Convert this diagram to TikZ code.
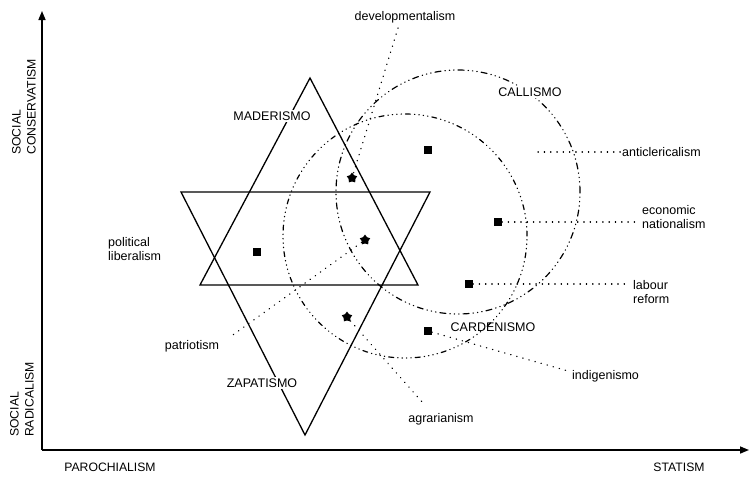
\documentclass[tikz,border=0pt]{standalone}
\usepackage{fontspec}
\setmainfont{Liberation Sans}
\usetikzlibrary{shapes.geometric,arrows.meta}
\tikzset{
  lab/.style={font=\fontsize{12.5}{14.5}\selectfont, inner sep=1pt},
  axlab/.style={font=\fontsize{12.2}{15}\selectfont, inner sep=0pt},
  biglab/.style={lab, fill=white, inner sep=2pt},
  tri/.style={draw, line width=1.3pt, line join=miter},
  axis/.style={draw, line width=1.5pt, -{Triangle[length=9pt,width=7pt]}},
  circA/.style={draw, line width=1.2pt, line cap=round, dash pattern=on 6pt off 4pt on 0.4pt off 4pt on 0.4pt off 4pt on 0.4pt off 4pt},
  circB/.style={draw, line width=1.2pt, line cap=round, dash pattern=on 5pt off 4pt on 0.4pt off 4pt on 0.4pt off 4pt on 0.4pt off 4pt on 0.4pt off 4pt},
  leader/.style={draw, line width=1.3pt, line cap=round, dash pattern=on 0.3pt off 6pt},
  sqm/.style={rectangle, fill=black, minimum size=7.5pt, inner sep=0pt},
  stm/.style={star, star points=5, star point ratio=1.6, fill=black, minimum size=11pt, inner sep=0pt}
}
\begin{document}
\begin{tikzpicture}[x=1pt,y=-1pt]
\useasboundingbox[fill=white] (0,0) rectangle (749,477);

% axes
\coordinate (O) at (42,450);
\coordinate (yTop) at (42,11);
\coordinate (xEnd) at (749,450);
\draw[axis] (O) -- (yTop);
\draw[axis] (O) -- (xEnd);

% circles
\node[circle, circA, minimum size=244pt, inner sep=0pt] (callismo) at (458,192) {};
\node[circle, circB, minimum size=244pt, inner sep=0pt] (cardenismo) at (405,236) {};

% triangles
\coordinate (uA) at (310,78);
\coordinate (uL) at (200,285);
\coordinate (uR) at (418,285);
\coordinate (dL) at (181,192);
\coordinate (dR) at (430,192);
\coordinate (dB) at (305,435);
\draw[tri] (uA) -- (uL) -- (uR) -- cycle;
\draw[tri] (dL) -- (dR) -- (dB) -- cycle;

% markers
\node[stm] (mDev) at (352,178) {};
\node[sqm] (mAnti) at (428,150) {};
\node[sqm] (mEco) at (498,222) {};
\node[sqm] (mLab) at (469,284) {};
\node[sqm] (mInd) at (428,331) {};
\node[stm] (mAgr) at (347,317) {};
\node[stm] (mPat) at (365,240) {};
\node[sqm] (mLib) at (257,252) {};

% labels
\node[lab] (lDev) at (405,17) {developmentalism};
\node[lab, anchor=west] (lAnti) at (621,152) {anticlericalism};
\node[lab, anchor=west, align=left] (lEco) at (641,217) {economic\\nationalism};
\node[lab, anchor=west, align=left] (lLab) at (632,292) {labour\\reform};
\node[lab, anchor=west] (lInd) at (571,376) {indigenismo};
\node[lab] (lAgr) at (441,419) {agrarianism};
\node[lab] (lPat) at (192,346) {patriotism};
\node[lab, anchor=west, align=left] (lLib) at (107,249) {political\\liberalism};

% leaders
\coordinate (devEnd) at (398,28);
\coordinate (antiStart) at (538,152);
\coordinate (ecoEnd) at (638,222);
\coordinate (labEnd) at (630,284);
\coordinate (indEnd) at (568,371);
\coordinate (agrEnd) at (423,403);
\coordinate (patEnd) at (230,337);
\draw[leader] (devEnd) -- (mDev);
\draw[leader] (antiStart) -- (lAnti.west);
\draw[leader] (mEco) -- (ecoEnd);
\draw[leader] (mLab) -- (labEnd);
\draw[leader] (mInd) -- (indEnd);
\draw[leader] (mAgr) -- (agrEnd);
\draw[leader] (mPat) -- (patEnd);

% movement labels
\node[biglab] (lMad) at (272,116) {MADERISMO};
\node[biglab] (lCal) at (530,92) {CALLISMO};
\node[lab] (lCar) at (493,327) {CARDENISMO};
\node[biglab] (lZap) at (262,383) {ZAPATISMO};

% axis labels
\node[axlab, rotate=90, anchor=west, align=left] (lCons) at (24,155) {SOCIAL\\CONSERVATISM};
\node[axlab, rotate=90, anchor=west, align=left] (lRad) at (22,437) {SOCIAL\\RADICALISM};
\node[axlab] (lPar) at (110,467) {PAROCHIALISM};
\node[axlab] (lSta) at (679,467) {STATISM};
\end{tikzpicture}
\end{document}
